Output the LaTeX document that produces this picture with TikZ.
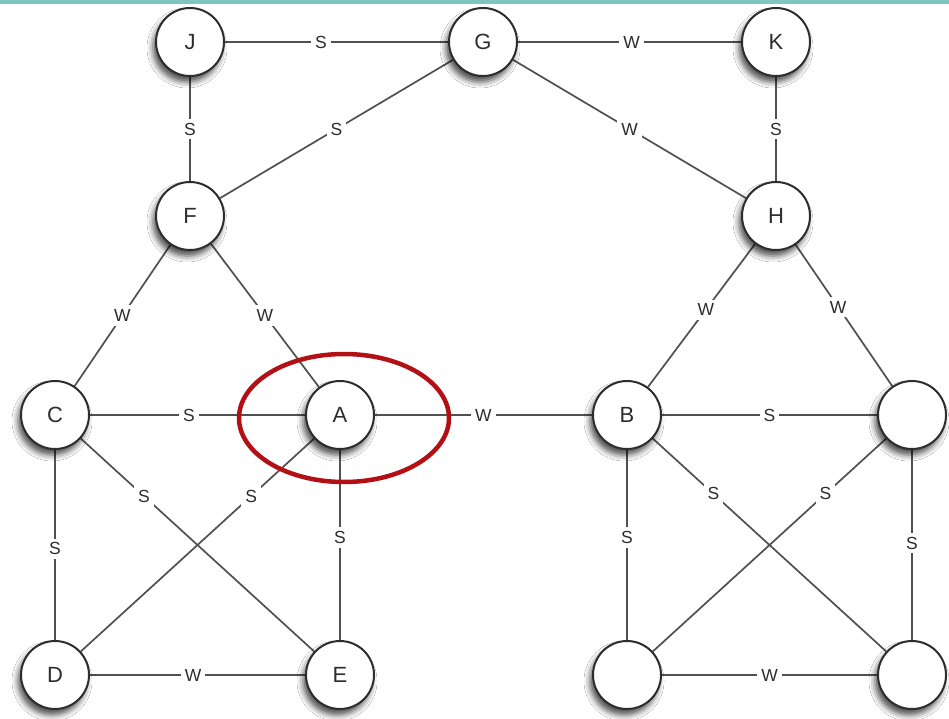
\documentclass[tikz,border=0pt]{standalone}
\usepackage{fontspec}
\setmainfont{Liberation Sans}
\usetikzlibrary{shadows.blur,backgrounds}
\definecolor{teal1}{RGB}{127,198,192}
\definecolor{edgec}{RGB}{80,80,80}
\definecolor{ringred}{RGB}{178,16,20}
\definecolor{txtc}{RGB}{45,45,45}
\tikzset{
  vtx/.style={circle, draw={rgb,255:red,45;green,45;blue,45}, line width=2pt, fill=white,
    minimum size=68pt, inner sep=0pt, font=\fontsize{22}{22}\selectfont, text=txtc,
    blur shadow={shadow xshift=-3pt, shadow yshift=-6pt, shadow blur radius=6pt, shadow opacity=70}},
  edge/.style={draw=edgec, line width=1.7pt},
  lbl/.style={fill=white, inner sep=4pt, font=\fontsize{17.5}{17.5}\selectfont, text=txtc}
}
\begin{document}
\begin{tikzpicture}[x=1pt,y=-1pt]
\useasboundingbox (0,0) rectangle (949,719);
% nodes
\node[vtx] (J) at (190,42) {J};
\node[vtx] (G) at (483,42) {G};
\node[vtx] (K) at (776,42) {K};
\node[vtx] (F) at (190,216) {F};
\node[vtx] (H) at (776,216) {H};
\node[vtx] (C) at (55,415) {C};
\node[vtx] (A) at (340,415) {A};
\node[vtx] (B) at (627,415) {B};
\node[vtx] (R) at (912,415) {};
\node[vtx] (D) at (55,675) {D};
\node[vtx] (E) at (340,675) {E};
\node[vtx] (P) at (627,675) {};
\node[vtx] (Q) at (912,675) {};
\begin{scope}[on background layer]
\fill[white] (0,0) rectangle (949,719);
\fill[teal1] (0,0) rectangle (949,4);
\path[edge] (J) -- node[lbl,pos=0.43] {S} (G);
\path[edge] (G) -- node[lbl,pos=0.51] {W} (K);
\path[edge] (J) -- node[lbl] {S} (F);
\path[edge] (K) -- node[lbl] {S} (H);
\path[edge] (G) -- node[lbl] {S} (F);
\path[edge] (G) -- node[lbl] {W} (H);
\path[edge] (F) -- node[lbl] {W} (C);
\path[edge] (F) -- node[lbl] {W} (A);
\path[edge] (H) -- node[lbl,pos=0.46] {W} (B);
\path[edge] (H) -- node[lbl,pos=0.44] {W} (R);
\path[edge] (C) -- node[lbl,pos=0.46] {S} (A);
\path[edge] (A) -- node[lbl] {W} (B);
\path[edge] (B) -- node[lbl] {S} (R);
\path[edge] (C) -- node[lbl,pos=0.52] {S} (D);
\path[edge] (C) -- node[lbl,pos=0.27] {S} (E);
\path[edge] (A) -- node[lbl,pos=0.27] {S} (D);
\path[edge] (A) -- node[lbl,pos=0.46] {S} (E);
\path[edge] (D) -- node[lbl,pos=0.48] {W} (E);
\path[edge] (B) -- node[lbl,pos=0.46] {S} (P);
\path[edge] (B) -- node[lbl,pos=0.26] {S} (Q);
\path[edge] (R) -- node[lbl,pos=0.26] {S} (P);
\path[edge] (R) -- node[lbl,pos=0.49] {S} (Q);
\path[edge] (P) -- node[lbl,pos=0.5] {W} (Q);
\end{scope}
% highlight ring
\draw[ringred, line width=4.5pt] (344,418) ellipse [x radius=105, y radius=64];
\end{tikzpicture}
\end{document}
